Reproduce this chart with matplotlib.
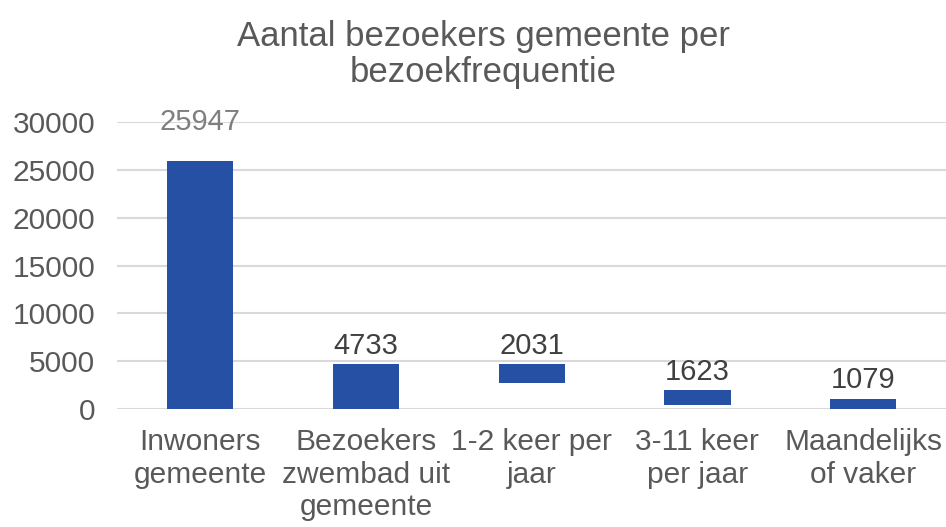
import matplotlib
matplotlib.use("Agg")
import matplotlib.pyplot as plt

categories = ["Inwoners\ngemeente", "Bezoekers\nzwembad uit\ngemeente", "1-2 keer per\njaar",
              "3-11 keer\nper jaar", "Maandelijks\nof vaker"]
values = [25947, 4733, 2031, 1623, 1079]
bases = [0, 0, 2702, 380, 0]
yticks = [0, 5000, 10000, 15000, 20000, 25000, 30000]

plt.rcParams['font.family'] = ['Liberation Sans', 'DejaVu Sans']

fig = plt.figure(figsize=(9.46, 5.27), dpi=100)
ax = fig.add_axes([0.124, 0.224, 0.876, 0.544])

x = range(len(categories))
ax.bar(x, values, bottom=bases, width=0.4, color="#2550A3", zorder=3)

for i, (v, b) in enumerate(zip(values, bases)):
    if i == 0:
        ax.annotate(str(v), (i, b + v), xytext=(0, 18), textcoords="offset points",
                    ha="center", va="bottom", fontsize=21, color="#7F7F7F", zorder=4)
    else:
        ax.annotate(str(v), (i, b + v), xytext=(0, 3), textcoords="offset points",
                    ha="center", va="bottom", fontsize=21, color="#404040", zorder=4)

ax.set_xlim(-0.5, len(categories) - 0.5)
ax.set_ylim(0, 30000)
ax.set_yticks(yticks)
ax.set_yticklabels([str(t) for t in yticks])
ax.set_xticks(list(x))
ax.set_xticklabels(categories, linespacing=1.2)
ax.tick_params(axis="y", length=0, labelsize=21.5, labelcolor="#595959", pad=16)
ax.tick_params(axis="x", length=0, labelsize=21.5, labelcolor="#595959", pad=14)
ax.grid(axis="y", color="#D9D9D9", linewidth=1.5, zorder=0)
for s in ax.spines.values():
    s.set_visible(False)

fig.text(0.511, 0.962, "Aantal bezoekers gemeente per\nbezoekfrequentie", ha="center", va="top",
         fontsize=25, color="#595959", linespacing=1.1)

fig.savefig("out.png", dpi=100)
